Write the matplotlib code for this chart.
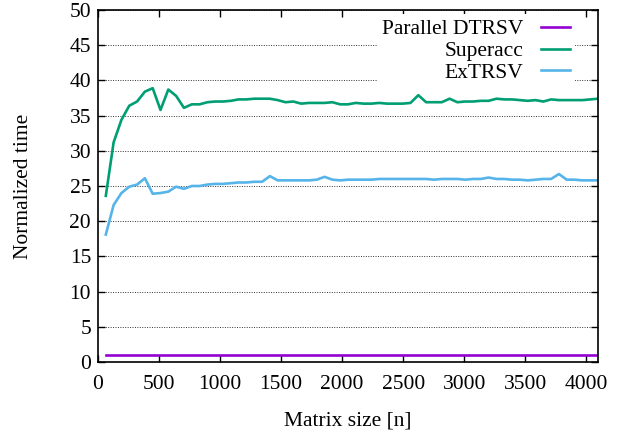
import matplotlib
matplotlib.use("Agg")
import matplotlib.pyplot as plt
import numpy as np

# matrix sizes, step 64 up to 4096
sizes = np.arange(64, 4097, 64)

parallel_dtrsv = [1.0] * 64

superacc = [
    23.6, 31.2, 34.4, 36.4, 37.0, 38.4, 38.9, 35.8, 38.7, 37.8,
    36.1, 36.6, 36.6, 36.9, 37.0, 37.0, 37.1, 37.3, 37.3, 37.4,
    37.4, 37.4, 37.2, 36.9, 37.0, 36.7, 36.8, 36.8, 36.8, 36.9,
    36.6, 36.6, 36.8, 36.7, 36.7, 36.8, 36.7, 36.7, 36.7, 36.8,
    37.9, 36.9, 36.9, 36.9, 37.4, 36.9, 37.0, 37.0, 37.1, 37.1,
    37.4, 37.3, 37.3, 37.2, 37.1, 37.2, 37.0, 37.3, 37.2, 37.2,
    37.2, 37.2, 37.3, 37.4,
]

extrsv = [
    18.1, 22.3, 24.0, 24.9, 25.2, 26.1, 23.9, 24.0, 24.2, 24.9,
    24.6, 25.0, 25.0, 25.2, 25.3, 25.3, 25.4, 25.5, 25.5, 25.6,
    25.6, 26.4, 25.8, 25.8, 25.8, 25.8, 25.8, 25.9, 26.3, 25.9,
    25.8, 25.9, 25.9, 25.9, 25.9, 26.0, 26.0, 26.0, 26.0, 26.0,
    26.0, 26.0, 25.9, 26.0, 26.0, 26.0, 25.9, 26.0, 26.0, 26.2,
    26.0, 26.0, 25.9, 25.9, 25.8, 25.9, 26.0, 26.0, 26.7, 25.9,
    25.9, 25.8, 25.8, 25.8,
]

x_ticks = np.arange(0, 4001, 500)
y_ticks = np.arange(0, 51, 5)

plt.rcParams["font.family"] = ["Liberation Serif", "DejaVu Serif"]
plt.rcParams["font.size"] = 15.5

fig = plt.figure(figsize=(6.27, 4.36), dpi=100)
ax = fig.add_axes([98 / 627, 1 - 362 / 436, 500 / 627, 352 / 436])

ax.plot(sizes, parallel_dtrsv, color="#9400d3", lw=1.9, label="Parallel DTRSV")
ax.plot(sizes, superacc, color="#009e73", lw=1.9, label="Superacc")
ax.plot(sizes, extrsv, color="#56b4e9", lw=1.9, label="ExTRSV")

ax.set_xlim(0, 4096)
ax.set_ylim(0, 50)
ax.set_xticks(x_ticks)
ax.set_yticks(y_ticks)
ax.tick_params(direction="in", length=5, width=1, top=True, right=True)
ax.tick_params(axis="x", pad=9)
ax.tick_params(axis="y", pad=5)
ax.yaxis.grid(True, linestyle=(0, (1, 1.5)), color="#333333", linewidth=0.7)
ax.set_axisbelow(True)
for spine in ax.spines.values():
    spine.set_linewidth(1.2)

ax.set_xlabel("Matrix size [n]", labelpad=13)
ax.set_ylabel("Normalized time", labelpad=26)

leg = ax.legend(
    loc="upper right",
    bbox_to_anchor=(575 / 627, 1 - 14 / 436),
    bbox_transform=fig.transFigure,
    markerfirst=False,
    frameon=True,
    fancybox=False,
    edgecolor="none",
    facecolor="white",
    framealpha=1.0,
    borderpad=0.25,
    borderaxespad=0,
    handlelength=1.35,
    handletextpad=0.8,
    labelspacing=0.08,
)
# right-align the label texts like gnuplot does
for col in leg._legend_box._children[-1]._children:
    col.align = "right"

fig.savefig("out.png", dpi=100)
